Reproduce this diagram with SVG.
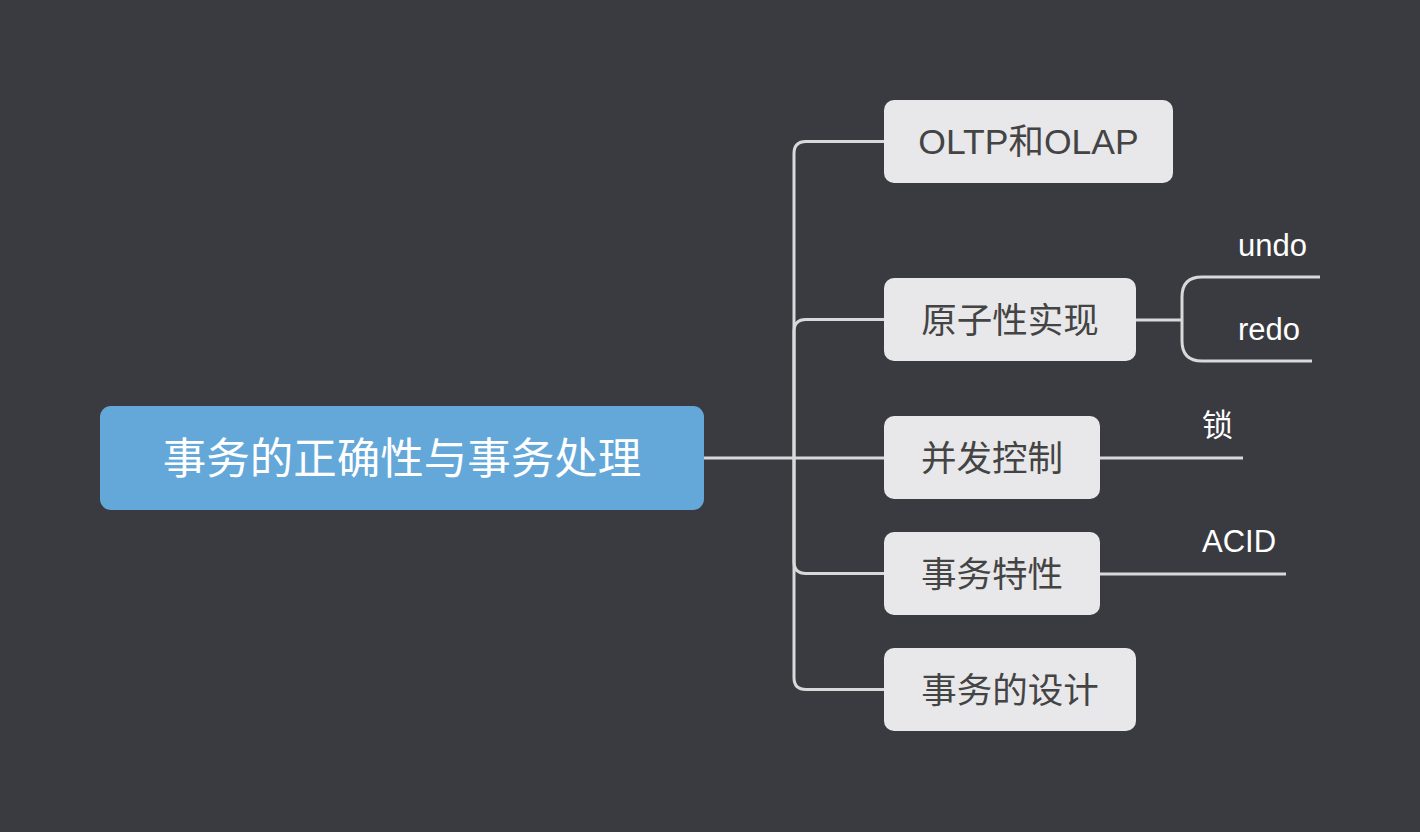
<svg xmlns="http://www.w3.org/2000/svg" width="1420" height="832" viewBox="0 0 1420 832">
<style>
.bg{fill:#3a3b40}
.root{fill:#64a8d9}
.node{fill:#e8e8ea}
.conn{fill:none;stroke:#d9d9db;stroke-width:3}
.rt{font-family:"Liberation Sans","Noto Sans CJK SC",sans-serif;font-size:43.5px;fill:#ffffff;text-anchor:middle}
.nt{font-family:"Liberation Sans","Noto Sans CJK SC",sans-serif;font-size:35.5px;fill:#444444;text-anchor:middle}
.lt{font-family:"Liberation Sans","Noto Sans CJK SC",sans-serif;font-size:31px;fill:#ffffff}
</style>
<rect class="bg" x="0" y="0" width="1420" height="832"/>
<g id="connectors">
<path class="conn" d="M704,458 H884"/>
<path class="conn" d="M794,458 V153.5 Q794,141.5 806,141.5 H884"/>
<path class="conn" d="M794,458 V331.5 Q794,319.5 806,319.5 H884"/>
<path class="conn" d="M794,458 V561.5 Q794,573.5 806,573.5 H884"/>
<path class="conn" d="M794,458 V677.5 Q794,689.5 806,689.5 H884"/>
<path class="conn" d="M1136,320 H1182"/>
<path class="conn" d="M1182,320 V297 Q1182,277 1202,277 H1320"/>
<path class="conn" d="M1182,320 V341 Q1182,361 1202,361 H1312"/>
<path class="conn" d="M1100,458 H1243"/>
<path class="conn" d="M1100,574 H1286"/>
</g>
<g id="root">
<rect class="root" x="100" y="406" width="604" height="104" rx="11"/>
<text class="rt" x="402" y="474">事务的正确性与事务处理</text>
</g>
<g id="n-oltp">
<rect class="node" x="884" y="100" width="289" height="83" rx="10"/>
<text class="nt" x="1028.5" y="154">OLTP和OLAP</text>
</g>
<g id="n-atomic">
<rect class="node" x="884" y="278" width="252" height="83" rx="10"/>
<text class="nt" x="1010" y="333">原子性实现</text>
</g>
<g id="n-undo"><text class="lt" x="1238" y="256">undo</text></g>
<g id="n-redo"><text class="lt" x="1238" y="340">redo</text></g>
<g id="n-concurrency">
<rect class="node" x="884" y="416" width="216" height="83" rx="10"/>
<text class="nt" x="992" y="471">并发控制</text>
</g>
<g id="n-lock"><text class="lt" x="1202" y="436">锁</text></g>
<g id="n-props">
<rect class="node" x="884" y="532" width="216" height="83" rx="10"/>
<text class="nt" x="992" y="587">事务特性</text>
</g>
<g id="n-acid"><text class="lt" x="1202" y="552">ACID</text></g>
<g id="n-design">
<rect class="node" x="884" y="648" width="252" height="83" rx="10"/>
<text class="nt" x="1010" y="703">事务的设计</text>
</g>
</svg>
